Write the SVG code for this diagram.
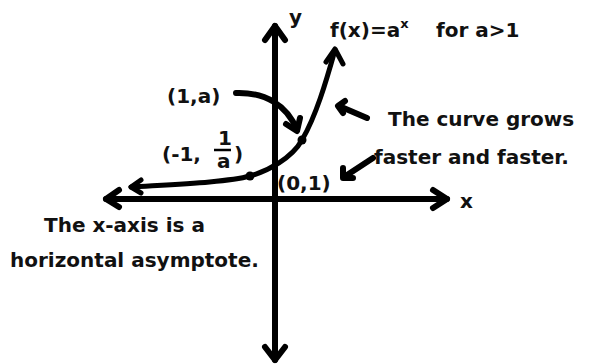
<svg xmlns="http://www.w3.org/2000/svg" width="590" height="364" viewBox="0 0 590 364">
<style>
text{font-family:"DejaVu Sans",sans-serif;font-weight:bold;font-size:20px;fill:#111}
.ln{fill:none;stroke:#000;stroke-linecap:round;stroke-linejoin:round}
.ax{stroke-width:6}
.cv{stroke-width:5}
.ar{stroke-width:6}
</style>
<rect width="590" height="364" fill="#fff"/>
<g id="axes">
<g id="y-axis">
<path class="ln ax" d="M275,26 V360"/>
<path class="ln ax" d="M265,40 L275,26 L285,40"/>
<path class="ln ax" d="M265,347 L275,360 L285,347"/>
<text x="289" y="24" font-size="18">y</text>
</g>
<g id="x-axis">
<path class="ln ax" d="M106,199 H447"/>
<path class="ln ax" d="M119,190 L106,199 L119,207"/>
<path class="ln ax" d="M433,190 L447,199 L433,208"/>
<text x="460" y="208" font-size="18">x</text>
</g>
</g>
<g id="curve">
<path class="ln cv" d="M131,187 C180,184 228,182 250,176 C268,171 292,158 302,140 C316,116 326,82 335,50"/>
<path class="ln cv" d="M141,180 L131,187 L141,193"/>
<path class="ln cv" d="M326,62 L335,49 L343,64"/>
<circle cx="250" cy="176" r="4.5" fill="#000"/>
<circle cx="302" cy="140" r="4.5" fill="#000"/>
</g>
<g id="title">
<text x="330" y="37">f(x)=a<tspan dy="-9" font-size="13">x</tspan><tspan dy="9" x="436">for a&gt;1</tspan></text>
</g>
<g id="label-1a">
<text x="167" y="103">(1,a)</text>
</g>
<g id="label-m1">
<text x="162" y="161">(-1,</text>
<text x="218" y="145" font-size="14">1</text>
<path d="M214,150 H231" stroke="#000" stroke-width="2.5"/>
<text x="217" y="168" font-size="14">a</text>
<text x="234" y="161">)</text>
</g>
<g id="label-01">
<text x="277" y="190">(0,1)</text>
</g>
<g id="note-growth">
<text x="388" y="126">The curve grows</text>
<text x="374" y="164">faster and faster.</text>
</g>
<g id="note-asymptote">
<text x="44" y="232">The x-axis is a</text>
<text x="10" y="267">horizontal asymptote.</text>
</g>
<g id="connectors">
<path class="ln ar" d="M236,93 C265,92 287,105 297,130"/>
<path class="ln ar" d="M286,124 L297,131 L300,118"/>
<path class="ln ar" d="M367,118 L339,106"/>
<path class="ln ar" d="M345,101 L338,106 L343,113"/>
<path class="ln ar" d="M373,158 L344,177"/>
<path class="ln ar" d="M343,168 L343,178 L353,178"/>
</g>
</svg>
